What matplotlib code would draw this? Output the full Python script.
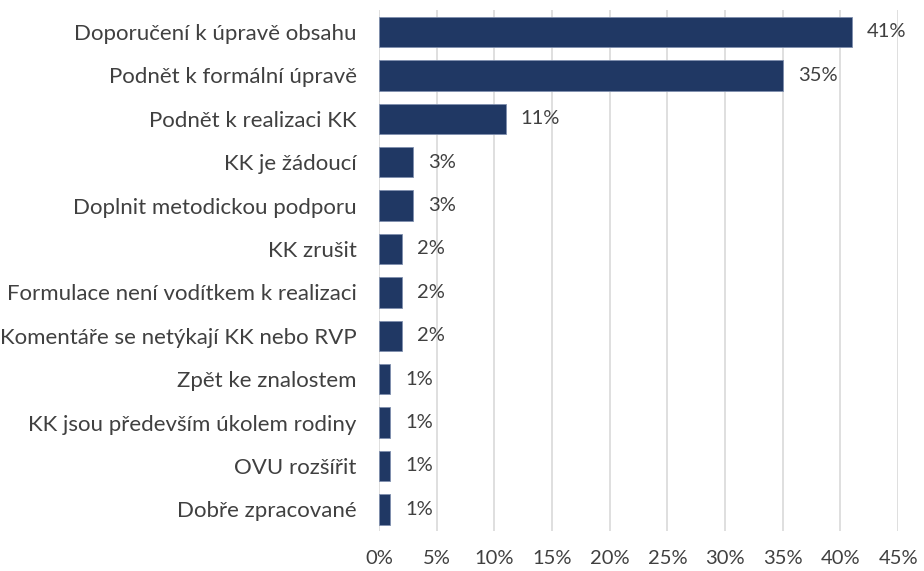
import matplotlib.pyplot as plt
from matplotlib.ticker import MultipleLocator, PercentFormatter

categories = [
    "Doporučení k úpravě obsahu",
    "Podnět k formální úpravě",
    "Podnět k realizaci KK",
    "KK je žádoucí",
    "Doplnit metodickou podporu",
    "KK zrušit",
    "Formulace není vodítkem k realizaci",
    "Komentáře se netýkají KK nebo RVP",
    "Zpět ke znalostem",
    "KK jsou především úkolem rodiny",
    "OVU rozšířit",
    "Dobře zpracované",
]
shares = [41, 35, 11, 3, 3, 2, 2, 2, 1, 1, 1, 1]

plt.rcParams['font.family'] = ['Lato', 'DejaVu Sans']
text_color = '#404040'
bar_color = '#203864'

fig = plt.figure(figsize=(9.24, 5.71), dpi=100)
ax = fig.add_axes([0.410, 0.070, 0.562, 0.912])

ypos = list(range(len(categories)))
ax.barh(ypos, shares, height=0.7, color=bar_color, edgecolor='#7f8fae',
        linewidth=0.6, zorder=3)
for y, v in zip(ypos, shares):
    ax.text(v + 1.3, y, f"{v}%", va='center', ha='left', fontsize=14.5,
            color=text_color)

ax.set_yticks(ypos)
ax.set_yticklabels(categories, fontsize=16, color=text_color)
ax.set_ylim(len(categories) - 0.5, -0.5)
ax.set_xlim(0, 45)
ax.xaxis.set_major_locator(MultipleLocator(5))
ax.xaxis.set_major_formatter(PercentFormatter(decimals=0))
ax.tick_params(axis='x', labelsize=14.5, labelcolor=text_color, length=0, pad=14)
ax.tick_params(axis='y', length=0, pad=16)
ax.grid(axis='x', color='#d9d9d9', linewidth=1.2, zorder=0)
for s in ax.spines.values():
    s.set_visible(False)

fig.savefig('out.png', dpi=100)
